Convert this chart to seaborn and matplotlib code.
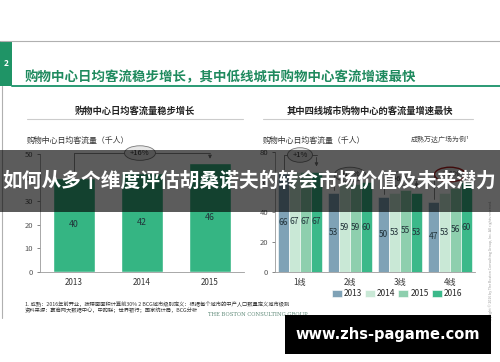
import pandas as pd
import matplotlib
matplotlib.use('Agg')
import matplotlib.pyplot as plt
import seaborn as sns
from matplotlib.patches import Rectangle
from matplotlib.lines import Line2D

# left chart: average daily traffic (thousand people)
years = ['2013', '2014', '2015']
traffic = [40, 42, 46]
growth_left = '+16%'

# right chart: by city tier
tiers = ['1线', '2线', '3线', '4线']
tier_years = ['2013', '2014', '2015', '2016']
traffic_2013 = [66, 53, 50, 47]
traffic_2014 = [67, 59, 53, 53]
traffic_2015 = [67, 59, 55, 56]
traffic_2016 = [67, 60, 53, 60]
growth_tiers = ['+1%', '+12%', '+6%', '+26%']

sns.set_theme(style='white')
plt.rcParams['font.family'] = ['Noto Sans CJK SC', 'DejaVu Sans']

W, H = 500, 362
fig = plt.figure(figsize=(5, 3.62), dpi=100)
fig.patch.set_facecolor('white')


def fx(x):
    return x / W


def fy(y):
    return 1 - y / H


def hline(x0, x1, y, **kw):
    fig.add_artist(Line2D([fx(x0), fx(x1)], [fy(y), fy(y)], transform=fig.transFigure, **kw))


# slide frame
hline(0, 500, 41, color='#b0b0b0', lw=0.8)
fig.add_artist(Line2D([fx(2), fx(2)], [fy(86), fy(318)], transform=fig.transFigure,
                      color='#b0b0b0', lw=0.8))
fig.add_artist(Rectangle((0, fy(86)), fx(12), (86 - 41) / H, transform=fig.transFigure,
                         color='#1f9466', lw=0))
fig.text(fx(6.5), fy(64), '2', color='white', fontsize=6, fontweight='bold',
         ha='center', va='center')
hline(12, 500, 86, color='#2a9a74', lw=1.4)
fig.text(fx(25), fy(77), '购物中心日均客流稳步增长，其中低线城市购物中心客流增速最快',
         color='#1f8a5e', fontsize=9.7, fontweight='bold', ha='left', va='center')

# subtitles
fig.text(fx(135), fy(111), '购物中心日均客流量稳步增长', fontsize=6.7, fontweight='bold',
         color='#222', ha='center', va='center')
fig.text(fx(370), fy(111), '其中四线城市购物中心的客流量增速最快', fontsize=6.7, fontweight='bold',
         color='#222', ha='center', va='center')
hline(27, 243, 119, color='#cccccc', lw=0.8)
hline(263, 473, 119, color='#cccccc', lw=0.8)
fig.text(fx(27), fy(140), '购物中心日均客流量（千人）', fontsize=5.7, color='#333',
         ha='left', va='center')
fig.text(fx(263), fy(140), '购物中心日均客流量（千人）', fontsize=5.7, color='#333',
         ha='left', va='center')
fig.text(fx(470), fy(140), '成熟万达广场为例¹', fontsize=5, color='#444', style='italic',
         ha='right', va='center')


def style_axis(ax, yticks):
    sns.despine(ax=ax)
    for s in ['left', 'bottom']:
        ax.spines[s].set_color('#9a9a9a')
        ax.spines[s].set_linewidth(0.6)
    ax.set_yticks(yticks)
    ax.tick_params(axis='y', labelsize=5.5, colors='#555', length=2, width=0.5, pad=3, left=True)
    ax.tick_params(axis='x', labelsize=5.8, labelcolor='#333', length=0, pad=4)
    ax.set_xlabel('')
    ax.set_ylabel('')
    ax.set_facecolor('white')


# left chart
ax1 = fig.add_axes([fx(40), fy(272), 204 / W, 118 / H])
sns.barplot(x=years, y=traffic, color='#35b583', width=0.62, saturation=1, ax=ax1)
ax1.set_xlim(-0.5, 2.5)
ax1.set_ylim(0, 50)
style_axis(ax1, range(0, 51, 10))
for c in ax1.containers:
    ax1.bar_label(c, label_type='center', fontsize=6.3, color='#22333a')
lv = 50.4
ax1.plot([0, 0, 2], [traffic[0] + 1.5, lv, lv], color='#777', lw=0.6, clip_on=False)
ax1.annotate('', xy=(2, traffic[2] + 0.8), xytext=(2, lv + 0.1), annotation_clip=False,
             arrowprops=dict(arrowstyle='-|>', color='#777', lw=0.6, mutation_scale=5))
ax1.text(0.97, lv, growth_left, fontsize=5.5, color='#333', ha='center', va='center',
         bbox=dict(boxstyle='ellipse,pad=0.15', fc='#e6e6e6', ec='#777', lw=0.6), clip_on=False)

# right chart
df = pd.DataFrame({
    'tier': tiers * 4,
    'year': [y for y in tier_years for _ in tiers],
    'value': traffic_2013 + traffic_2014 + traffic_2015 + traffic_2016,
})
palette = ['#7fa2b6', '#c9e8d6', '#8ecfae', '#3bb98a']
ax2 = fig.add_axes([fx(275), fy(272), 200 / W, 120 / H])
sns.barplot(data=df, x='tier', y='value', hue='year', palette=palette, width=0.88,
            saturation=1, edgecolor='white', linewidth=0.4, ax=ax2)
ax2.set_xlim(-0.5, 3.5)
ax2.set_ylim(0, 80)
style_axis(ax2, range(0, 81, 20))
for c in ax2.containers:
    ax2.bar_label(c, label_type='center', fontsize=6, color='#22333a', padding=0)
ax2.legend(loc='center', bbox_to_anchor=(fx(397), fy(294)), bbox_transform=fig.transFigure,
           ncol=4, frameon=False, fontsize=6, handlelength=1.2, handleheight=0.9,
           columnspacing=0.35, handletextpad=0.25, borderaxespad=0, borderpad=0)

levels = [78, 65, 62, 65]
firsts = traffic_2013
lasts = traffic_2016
for i in range(4):
    x0, x1 = i - 0.33, i + 0.33
    ax2.plot([x0, x0, x1], [firsts[i] + 2, levels[i], levels[i]], color='#777', lw=0.6,
             clip_on=False)
    ax2.annotate('', xy=(x1, lasts[i] + 1.5), xytext=(x1, levels[i] + 0.2),
                 annotation_clip=False,
                 arrowprops=dict(arrowstyle='-|>', color='#777', lw=0.6, mutation_scale=5))
    ec = '#b02020' if i == 3 else '#777'
    ax2.text(i, levels[i], growth_tiers[i], fontsize=5.5, color='#333', ha='center',
             va='center', clip_on=False,
             bbox=dict(boxstyle='ellipse,pad=0.15', fc='#e6e6e6', ec=ec,
                       lw=1.0 if i == 3 else 0.6))

# footnotes
fig.text(fx(25), fy(304), '1. 成熟：2016年前开业，按楼面面积计算前30% 2 BCG城市级别定义：根据每个城市的中产人口数量定义城市级别',
         fontsize=3.8, color='#333', ha='left', va='center')
fig.text(fx(25), fy(310), '资料来源：赢商网大数据中心，中购联；世界银行；国家统计局，BCG分析',
         fontsize=3.8, color='#333', ha='left', va='center')
fig.text(fx(208), fy(315), 'THE BOSTON CONSULTING GROUP', fontsize=3.8, color='#5f8a78',
         family='DejaVu Serif', ha='left', va='center')
fig.text(fx(491), fy(262), 'Copyright © 2016 by The Boston Consulting Group, Inc. All rights reserved.',
         fontsize=2.6, color='#999', rotation=90, ha='center', va='center')

# overlay banner
fig.add_artist(Rectangle((0, fy(212)), 1, (212 - 150) / H, transform=fig.transFigure,
                         color='black', alpha=0.64, lw=0, zorder=10))
fig.text(fx(2), fy(181), '如何从多个维度评估胡桑诺夫的转会市场价值及未来潜力', color='white',
         fontsize=14.2, fontweight='bold', ha='left', va='center', zorder=11)

# watermark box
fig.add_artist(Rectangle((fx(285), fy(354)), (491 - 285) / W, (354 - 315) / H,
                         transform=fig.transFigure, color='black', lw=0, zorder=10))
fig.text(fx(388), fy(334), 'www.zhs-pagame.com', color='white', fontsize=10.5,
         fontweight='bold', family='DejaVu Sans', ha='center', va='center', zorder=11)

fig.savefig('out.png', dpi=100)
